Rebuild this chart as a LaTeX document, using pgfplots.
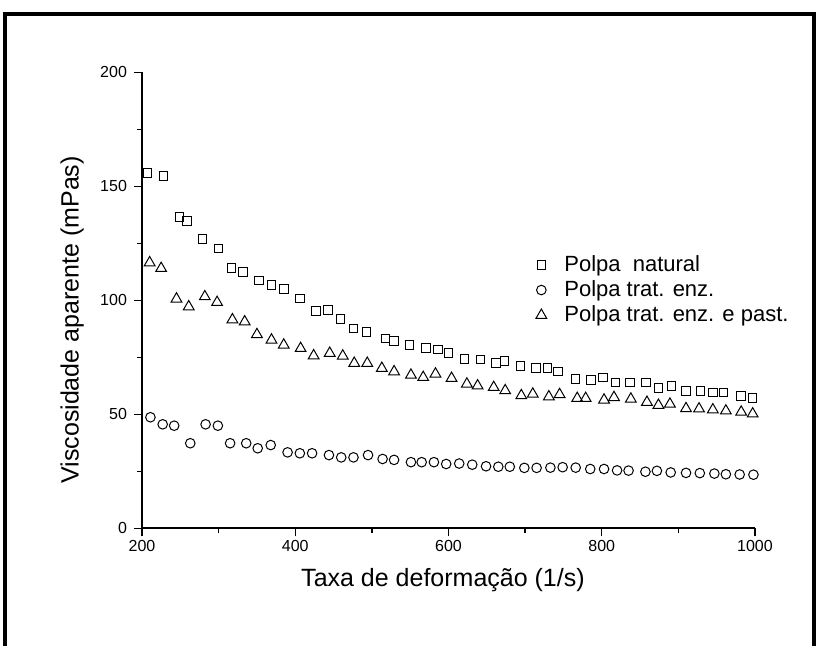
\documentclass[border=0pt]{standalone}
\usepackage{pgfplots}
\pgfplotsset{compat=1.18}
\usepackage{fontspec}
\setmainfont{Liberation Sans}
\begin{document}
\begin{tikzpicture}
\begin{axis}[
  at={(0,0)}, anchor=south west,
  scale only axis,
  width=306.5pt, height=228pt,
  xmin=200, xmax=1000, ymin=0, ymax=200,
  axis lines=left,
  axis line style={line width=0.8pt, -},
  xtick={200,400,600,800,1000},
  ytick={0,50,100,150,200},
  minor x tick num=1, minor y tick num=1,
  tick align=outside,
  major tick length=4pt, minor tick length=2.5pt,
  tick style={line width=0.7pt, black},
  /pgf/number format/assume math mode=true,
  /pgf/number format/1000 sep={},
  ticklabel style={font=\fontsize{8}{9.6}\selectfont},
  xticklabel style={yshift=1.5pt},
  xlabel={Taxa de deformação (1/s)},
  ylabel={Viscosidade aparente (mPas)},
  label style={font=\fontsize{12.5}{15}\selectfont},
  xlabel style={at={(axis description cs:0.491,-0.114)}, anchor=center},
  ylabel style={at={(axis description cs:-0.114,0.457)}, anchor=center, rotate=0},
  legend style={draw=none, fill=none, at={(axis cs:705,123)}, anchor=north west,
    font=\fontsize{11}{13}\selectfont, row sep=0pt,
    nodes={inner sep=1.2pt, text height=8.2pt, text depth=2pt}},
  legend image code/.code={\path[draw=none,fill=none] (-3pt,0pt) -- (10.3pt,0pt); \draw[#1] plot coordinates {(0pt,0pt)};},
  legend cell align=left,
  clip=false,
]
\addplot[only marks, mark=square, mark size=2.15pt, mark options={line width=0.5pt, black}] coordinates {
(207,155.8)(228,154.4)(249,136.5)(259,134.9)(279,127.0)(300,122.8)(317,114.2)(332,112.3)
(353,108.6)(369,106.8)(385,105.0)(406,100.7)(427,95.4)(443,95.7)(459,91.7)(476,87.7)
(493,86.2)(518,83.3)(529,82.1)(549,80.4)(571,79.2)(586,78.5)(600,76.8)(621,74.3)
(642,74.0)(662,72.6)(673,73.5)(694,71.2)(714,70.2)(729,70.2)(743,68.8)(766,65.4)
(786,65.0)(802,66.2)(818,64.0)(837,64.0)(858,64.0)(874,61.4)(891,62.5)(910,60.2)
(929,60.2)(945,59.5)(959,59.5)(982,58.0)(997,57.2)
};
\addlegendentry{Polpa\ \ natural}
\addplot[only marks, mark=o, mark size=2.4pt, mark options={line width=0.5pt, black}] coordinates {
(211,48.7)(227,45.6)(242,45.0)(263,37.3)(283,45.6)(299,45.0)(315,37.3)(336,37.3)
(351,35.1)(368,36.5)(390,33.3)(406,32.9)(422,32.9)(444,32.1)(460,31.1)(476,31.1)
(495,32.1)(514,30.4)(529,30.0)(551,29.0)(565,29.0)(581,29.0)(597,28.2)(614,28.4)
(631,27.9)(649,27.2)(665,27.0)(680,27.0)(699,26.5)(715,26.5)(733,26.6)(749,26.8)
(766,26.6)(785,26.0)(803,26.0)(820,25.4)(835,25.3)(857,24.8)(872,25.2)(890,24.5)
(910,24.3)(928,24.2)(947,24.0)(962,23.7)(980,23.6)(998,23.5)
};
\addlegendentry{Polpa trat. enz.}
\addplot[only marks, mark=triangle, mark size=3.1pt, mark options={line width=0.5pt, black}] coordinates {
(210,116.5)(225,114.0)(245,100.6)(261,97.2)(282,101.6)(298,99.1)(318,91.5)(334,90.6)
(350,85.0)(369,82.6)(385,80.4)(407,78.9)(424,75.7)(445,76.8)(462,75.6)(477,72.4)
(494,72.4)(513,70.2)(529,68.7)(551,67.2)(567,66.2)(583,67.7)(604,65.8)(624,63.3)
(638,62.5)(659,61.8)(674,60.4)(695,58.2)(710,58.9)(731,57.7)(745,58.7)(768,57.0)
(779,57.0)(803,56.3)(816,57.4)(838,56.7)(859,55.3)(874,54.0)(889,54.5)(910,52.5)
(927,52.4)(945,52.0)(962,51.5)(982,51.0)(997,50.2)
};
\addlegendentry{Polpa trat. enz. e past.}
\end{axis}
\path[use as bounding box] (-71pt,-58.85pt) rectangle (337pt,264.15pt);
\draw[line width=2pt] (-68.25pt,-60pt) -- (-68.25pt,257.15pt) -- (336pt,257.15pt) -- (336pt,-60pt);
\end{tikzpicture}
\end{document}
